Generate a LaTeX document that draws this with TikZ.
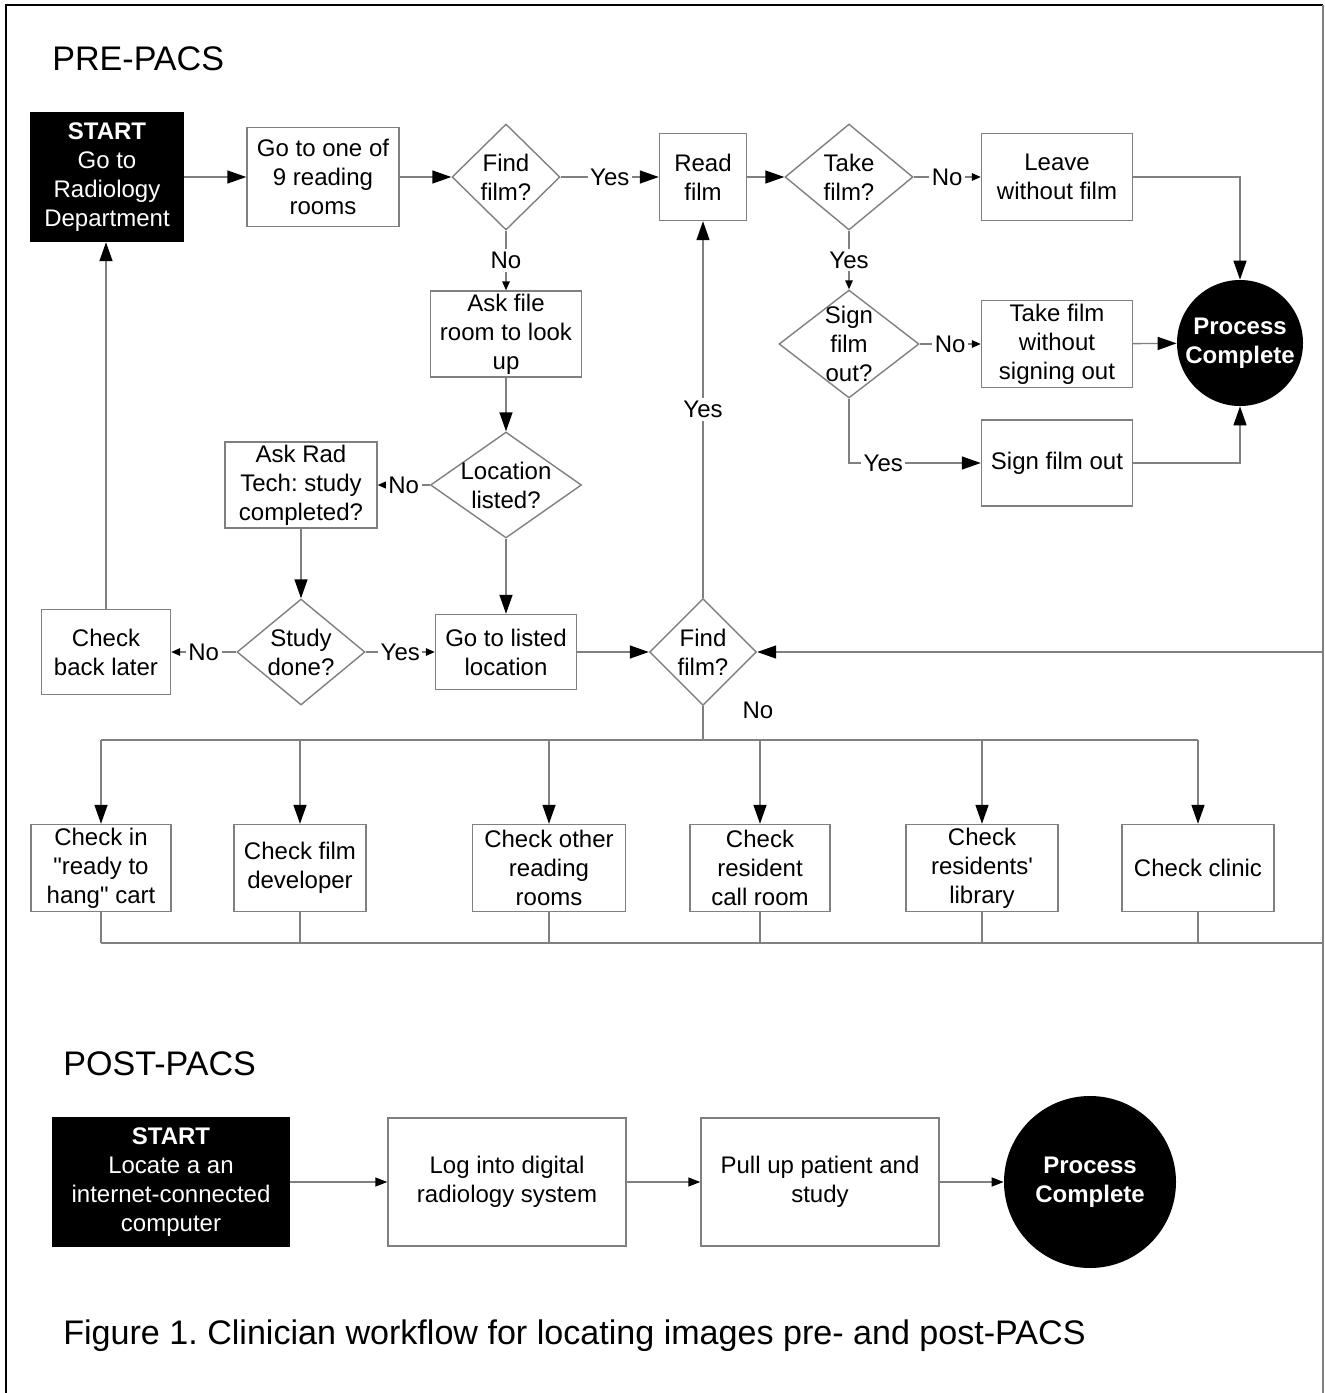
\documentclass[tikz,border=0pt]{standalone}
\usepackage{fontspec}
\setmainfont{Liberation Sans}
\usetikzlibrary{
  arrows.meta,
  shapes.geometric,
  positioning
}
\frenchspacing
\definecolor{linegray}{gray}{0.5}
\tikzset{
  x=0.02cm,
  y=-0.02cm,
  every node/.style={font=\fontsize{13.66}{16.44}\selectfont},
  % styles
  line/.style={
    draw=linegray,
    line width=0.8pt,
  },
  arr/.style={
    line,
    -{Triangle[length=0.38cm,width=0.26cm,black]},
  },
  sarr/.style={
    line,
    -{Triangle[length=0.18cm,width=0.15cm,black]},
  },
  marr/.style={
    line,
    -{Triangle[length=0.24cm,width=0.18cm,black]},
  },
  size/.style 2 args={
    minimum width=#1*0.02cm,
    minimum height=#2*0.02cm,
  },
  box/.style={
    draw=linegray,
    line width=0.8pt,
    fill=white,
    align=center,
    inner sep=0pt,
  },
  startbox/.style={
    box,
    draw=black,
    fill=black,
    text=white,
  },
  decision/.style={
    diamond,
    draw=linegray,
    line width=0.8pt,
    fill=white,
    inner sep=0pt,
  },
  endcircle/.style={
    circle,
    fill=black,
    text=white,
    align=center,
    inner sep=0pt,
    font=\fontsize{13.66}{16.44}\selectfont\bfseries,
  },
  lab/.style={
    fill=white,
    inner sep=1.5pt,
  },
  title/.style={
    font=\fontsize{19.4}{23}\selectfont,
    inner sep=0pt,
    anchor=base west,
  }
}

\begin{document}
\begin{tikzpicture}
  \useasboundingbox (0,0) rectangle (1325,1393);

  % frame
  \draw [black,line width=1.1pt] (6,1393) -- (6,5) -- (1323,5);
  \draw [line] (1323,5) -- (1323,1393);

  % titles
  \node [title] (pre)     at (52,70)   {PRE-PACS};
  \node [title] (post)    at (63,1075) {POST-PACS};
  \node [title] (caption) at (63,1344)
    {Figure 1. Clinician workflow for locating images pre- and post-PACS};

  % pre-PACS: top row
  \node [startbox,size={152}{129}] (start) at (107,177)
    {\textbf{START}\\Go to\\Radiology\\Department};
  \node [box,size={152}{99}]       (rooms) at (323,177) {Go to one of\\9 reading\\rooms};
  \node [decision,size={108}{106},label={[align=center]center:Find\\film?}]
                                   (find)  at (506,177) {};
  \node [box,size={87}{87}]        (read)  at (703,177) {Read\\film};
  \node [decision,size={128}{106},label={[align=center]center:Take\\film?}]
                                   (take)  at (849,177) {};
  \node [box,size={151}{87}]       (leave) at (1057,177) {Leave\\without film};
  \node [endcircle,minimum size=126*0.02cm] (done) at (1240,343) {Process\\Complete};

  % pre-PACS: taking the film
  \node [decision,size={140}{108},label={[align=center]center:Sign\\film\\out?}]
                                   (sign)    at (849,344) {};
  \node [box,size={151}{87}]       (nosign)  at (1057,344) {Take film\\without\\signing out};
  \node [box,size={151}{86}]       (signout) at (1057,463) {Sign film out};

  % pre-PACS: looking up the film
  \node [box,size={151}{86}]       (ask)    at (506,334) {Ask file\\room to look\\up};
  \node [decision,size={151}{106},label={[align=center]center:Location\\listed?}]
                                   (listed) at (506,485) {};
  \node [box,size={152}{86}]       (tech)   at (301,485) {Ask Rad\\Tech: study\\completed?};
  \node [decision,size={128}{106},label={[align=center]center:Study\\done?}]
                                   (study)  at (301,652) {};
  \node [box,size={129}{85}]       (later)  at (106,652) {Check\\back later};
  \node [box,size={141}{75}]       (goto)   at (506,652) {Go to listed\\location};
  \node [decision,size={107}{107},label={[align=center]center:Find\\film?}]
                                   (find2)  at (703,652) {};
  \node (nofilm) at (758,710) {No};

  % pre-PACS: places to search
  \node [box,size={140}{87}] (c1) at (101,868)
    {Check in\\\textquotedbl ready to\\hang\textquotedbl\ cart};
  \node [box,size={132}{87}] (c2) at (300,868)  {Check film\\developer};
  \node [box,size={153}{87}] (c3) at (549,868)  {Check other\\reading\\rooms};
  \node [box,size={140}{87}] (c4) at (760,868)  {Check\\resident\\call room};
  \node [box,size={152}{87}] (c5) at (982,868)  {Check\\residents\textquotesingle\\library};
  \node [box,size={152}{87}] (c6) at (1198,868) {Check clinic};
  \coordinate (bus) at (703,740);
  \coordinate (ret) at (1323,943);

  % pre-PACS: connectors
  \draw [arr]  (start) -- (rooms);
  \draw [arr]  (rooms) -- (find);
  \draw [arr]  (find) -- node [lab] {Yes} (read);
  \draw [arr]  (read) -- (take);
  \draw [sarr] (take) -- node [lab] {No} (leave);
  \draw [arr]  (leave) -| (done);
  \draw [sarr] (take) -- node [lab] {Yes} (sign);
  \draw [sarr] (sign) -- node [lab] {No} (nosign);
  \draw [arr]  (nosign) -- (done);
  \draw [arr]  (sign) |- node [lab,pos=0.63] {Yes} (signout);
  \draw [arr]  (signout) -| (done);
  \draw [sarr] (find) -- node [lab] {No} (ask);
  \draw [arr]  (ask) -- (listed);
  \draw [sarr] (listed) -- node [lab] {No} (tech);
  \draw [arr]  (tech) -- (study);
  \draw [sarr] (study) -- node [lab] {No} (later);
  \draw [arr]  (later.north) -- (later.north |- start.south);
  \draw [sarr] (study) -- node [lab] {Yes} (goto);
  \draw [arr]  (listed) -- (goto);
  \draw [arr]  (goto) -- (find2);
  \draw [arr]  (find2) -- node [lab] {Yes} (read);

  \draw [line] (find2.south) -- (bus);
  \draw [line] (c1 |- bus) -- (c6 |- bus);
  \draw [arr]  (c1 |- bus) -- (c1);
  \draw [arr]  (c2 |- bus) -- (c2);
  \draw [arr]  (c3 |- bus) -- (c3);
  \draw [arr]  (c4 |- bus) -- (c4);
  \draw [arr]  (c5 |- bus) -- (c5);
  \draw [arr]  (c6 |- bus) -- (c6);

  \draw [line] (c1.south) -- (c1.south |- ret);
  \draw [line] (c2.south) -- (c2.south |- ret);
  \draw [line] (c3.south) -- (c3.south |- ret);
  \draw [line] (c4.south) -- (c4.south |- ret);
  \draw [line] (c5.south) -- (c5.south |- ret);
  \draw [line] (c6.south) -- (c6.south |- ret);
  \draw [line] (c1.south |- ret) -- (ret);
  \draw [arr]  (ret) |- (find2);

  % post-PACS
  \node [startbox,size={237}{128}] (start2) at (171,1182)
    {\textbf{START}\\Locate a an\\internet-connected\\computer};
  \node [box,size={238}{128}] (login) at (507,1182) {Log into digital\\radiology system};
  \node [box,size={238}{128}] (pull)  at (820,1182) {Pull up patient and\\study};
  \node [endcircle,minimum size=172*0.02cm] (done2) at (1090,1182) {Process\\Complete};

  \draw [marr] (start2) -- (login);
  \draw [marr] (login) -- (pull);
  \draw [marr] (pull) -- (done2);
\end{tikzpicture}
\end{document}
